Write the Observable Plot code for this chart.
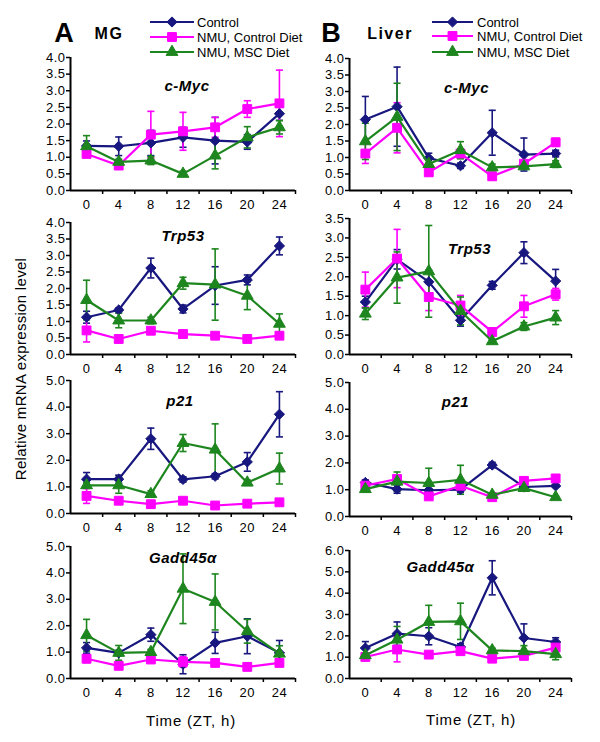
<!DOCTYPE html>
<html><head><meta charset="utf-8">
<script src="https://cdn.jsdelivr.net/npm/d3@7"></script>
<script src="https://cdn.jsdelivr.net/npm/@observablehq/plot@0.6"></script>
<style>
body{margin:0;background:#fff;}
#chart{position:relative;width:600px;height:742px;font-family:"Liberation Sans",Arial,sans-serif;overflow:hidden;background:#fff;}
.abs{position:absolute;}
.lbl{position:absolute;white-space:nowrap;color:#000;}
</style></head><body><div id="chart"></div>
<script>
const times = [0,4,8,12,16,20,24];
const seriesNames = ["Control","NMU, Control Diet","NMU, MSC Diet"];
const genes = ["c-Myc","Trp53","p21","Gadd45α"];
const tissues = ["MG","Liver"];
const panelLetters = ["A","B"];

// Mammary gland (MG)
const mgMycCtrl = [1.34,1.33,1.43,1.60,1.50,1.46,2.31];
const mgMycCtrlErr = [0.15,0.28,0.38,0.30,0.70,0.22,0.20];
const mgMycCD = [1.10,0.75,1.68,1.78,1.90,2.45,2.62];
const mgMycCDErr = [0.10,0.08,0.70,0.57,0.30,0.25,1.00];
const mgMycMSC = [1.33,0.86,0.90,0.50,1.05,1.60,1.90];
const mgMycMSCErr = [0.32,0.08,0.12,0.08,0.40,0.32,0.20];

const mgTrpCtrl = [1.13,1.35,2.62,1.38,2.09,2.26,3.29];
const mgTrpCtrlErr = [0.18,0.06,0.30,0.12,0.57,0.15,0.27];
const mgTrpCD = [0.73,0.47,0.72,0.62,0.57,0.47,0.57];
const mgTrpCDErr = [0.35,0.08,0.06,0.05,0.06,0.05,0.06];
const mgTrpMSC = [1.65,1.03,1.03,2.16,2.12,1.78,0.93];
const mgTrpMSCErr = [0.60,0.22,0.10,0.18,1.08,0.42,0.30];

const mgP21Ctrl = [1.29,1.29,2.81,1.28,1.40,1.94,3.73];
const mgP21CtrlErr = [0.25,0.15,0.40,0.10,0.10,0.35,0.85];
const mgP21CD = [0.66,0.48,0.35,0.48,0.30,0.37,0.42];
const mgP21CDErr = [0.28,0.10,0.06,0.05,0.05,0.05,0.05];
const mgP21MSC = [1.06,1.06,0.73,2.65,2.40,1.16,1.69];
const mgP21MSCErr = [0.10,0.30,0.12,0.32,0.97,0.10,0.58];

const mgGadCtrl = [1.16,0.97,1.66,0.54,1.35,1.60,0.97];
const mgGadCtrlErr = [0.20,0.10,0.25,0.36,0.40,0.66,0.47];
const mgGadCD = [0.75,0.48,0.72,0.63,0.59,0.44,0.59];
const mgGadCDErr = [0.15,0.05,0.05,0.20,0.05,0.05,0.05];
const mgGadMSC = [1.64,0.97,1.00,3.40,2.90,1.79,0.94];
const mgGadMSCErr = [0.60,0.28,0.10,1.32,1.06,0.45,0.30];

// Liver
const lvMycCtrl = [2.15,2.54,0.98,0.75,1.75,1.09,1.12];
const lvMycCtrlErr = [0.70,1.20,0.15,0.08,0.68,0.50,0.10];
const lvMycCD = [1.12,1.90,0.55,1.12,0.43,0.81,1.46];
const lvMycCDErr = [0.30,0.76,0.10,0.12,0.10,0.08,0.12];
const lvMycMSC = [1.49,2.23,0.80,1.22,0.70,0.73,0.80];
const lvMycMSCErr = [0.55,1.02,0.22,0.26,0.10,0.08,0.10];

const lvTrpCtrl = [1.35,2.45,1.87,0.88,1.78,2.62,1.89];
const lvTrpCtrlErr = [0.15,0.25,0.30,0.15,0.10,0.28,0.30];
const lvTrpCD = [1.67,2.47,1.48,1.26,0.58,1.24,1.55];
const lvTrpCDErr = [0.45,0.75,0.35,0.26,0.05,0.28,0.15];
const lvTrpMSC = [1.05,1.98,2.14,1.12,0.34,0.72,0.95];
const lvTrpMSCErr = [0.15,0.66,1.18,0.36,0.05,0.10,0.18];

const lvP21Ctrl = [1.27,1.02,0.98,1.00,1.92,1.10,1.14];
const lvP21CtrlErr = [0.10,0.15,0.06,0.10,0.10,0.05,0.05];
const lvP21CD = [1.15,1.40,0.75,1.15,0.72,1.33,1.42];
const lvP21CDErr = [0.20,0.10,0.10,0.08,0.10,0.05,0.05];
const lvP21MSC = [1.02,1.30,1.25,1.37,0.81,1.06,0.72];
const lvP21MSCErr = [0.10,0.36,0.55,0.54,0.05,0.05,0.05];

const lvGadCtrl = [1.43,2.10,1.98,1.48,4.72,1.90,1.71];
const lvGadCtrlErr = [0.30,0.55,0.40,0.15,0.80,0.66,0.20];
const lvGadCD = [1.01,1.36,1.12,1.28,0.93,1.06,1.45];
const lvGadCDErr = [0.08,0.58,0.08,0.10,0.08,0.08,0.10];
const lvGadMSC = [1.09,1.82,2.65,2.68,1.32,1.28,1.14];
const lvGadMSCErr = [0.10,0.62,0.78,0.85,0.10,0.26,0.26];

// y axis maxima / steps per panel
const mgYMax = [4, 4, 5, 5];
const mgYStep = [0.5, 0.5, 1, 1];
const lvYMax = [4, 3.5, 5, 6];
const lvYStep = [0.5, 0.5, 1, 1];

// ---------- styling ----------
const colors = ["#17177f", "#ff00ff", "#1e861e"];
const symbols = ["diamond2", "square", "triangle"];
const symR = [4.6, 5, 4.4];
const FONT = "'Liberation Sans', Arial, sans-serif";

const mgSeries = [
  [[mgMycCtrl,mgMycCtrlErr],[mgMycCD,mgMycCDErr],[mgMycMSC,mgMycMSCErr]],
  [[mgTrpCtrl,mgTrpCtrlErr],[mgTrpCD,mgTrpCDErr],[mgTrpMSC,mgTrpMSCErr]],
  [[mgP21Ctrl,mgP21CtrlErr],[mgP21CD,mgP21CDErr],[mgP21MSC,mgP21MSCErr]],
  [[mgGadCtrl,mgGadCtrlErr],[mgGadCD,mgGadCDErr],[mgGadMSC,mgGadMSCErr]]
];
const lvSeries = [
  [[lvMycCtrl,lvMycCtrlErr],[lvMycCD,lvMycCDErr],[lvMycMSC,lvMycMSCErr]],
  [[lvTrpCtrl,lvTrpCtrlErr],[lvTrpCD,lvTrpCDErr],[lvTrpMSC,lvTrpMSCErr]],
  [[lvP21Ctrl,lvP21CtrlErr],[lvP21CD,lvP21CDErr],[lvP21MSC,lvP21MSCErr]],
  [[lvGadCtrl,lvGadCtrlErr],[lvGadCD,lvGadCDErr],[lvGadMSC,lvGadMSCErr]]
];

// layout: [top pixel of y max, bottom pixel of y=0]
const layoutA = [[57,190],[222,354],[380,513],[546,678]];
const layoutB = [[58,190],[218,354],[382,516],[550,678]];
const titleA = [[4,23],[0,8],[-3,15],[0,6]];
const titleB = [[6,24],[9,25],[-5,14],[-20,11]];

const capSymbol = {
  draw(context, size) {
    const w = Math.sqrt(size) / 2;
    context.moveTo(-w, 0);
    context.lineTo(w, 0);
  }
};

const chart = document.getElementById("chart");

function makePanel(series, gene, yMax, yStep, left, mL, mR, top, bottom, tOff) {
  const mt = 14, mb = 32;
  const rowsBySeries = series.map(([vals, errs], s) =>
    vals.map((v, i) => ({s, t: times[i], v, lo: Math.max(0, v - errs[i]), hi: v + errs[i]})));
  const marks = [
    Plot.axisY({ticks: d3.range(0, yMax + 1e-9, yStep), tickFormat: d3.format(".1f"), tickSize: 4, tickPadding: 1, label: null, strokeWidth: 1.5}),
    Plot.axisX({ticks: [2,6,10,14,18,22,26], tickFormat: () => "", tickSize: 4, label: null, strokeWidth: 1.5}),
    Plot.axisX({ticks: times, tickSize: 0, tickPadding: 9, label: null}),
    Plot.ruleX([-2], {stroke: "#000", strokeWidth: 2}),
    Plot.ruleY([0], {stroke: "#000", strokeWidth: 2})
  ];
  rowsBySeries.forEach((rows, s) => {
    marks.push(
      Plot.ruleX(rows, {x: "t", y1: "lo", y2: "hi", stroke: colors[s], strokeWidth: 1.6}),
      Plot.dot(rows, {x: "t", y: "hi", symbol: capSymbol, r: 4, fill: "none", stroke: colors[s], strokeWidth: 1.6}),
      Plot.dot(rows, {x: "t", y: "lo", symbol: capSymbol, r: 4, fill: "none", stroke: colors[s], strokeWidth: 1.6})
    );
  });
  rowsBySeries.forEach((rows, s) => {
    marks.push(
      Plot.line(rows, {x: "t", y: "v", stroke: colors[s], strokeWidth: 2.2}),
      Plot.dot(rows, {x: "t", y: "v", symbol: symbols[s], r: symR[s], fill: colors[s], stroke: colors[s], strokeWidth: 1})
    );
  });
  marks.push(Plot.text([gene], {frameAnchor: "top", dx: tOff[0], dy: tOff[1], fontWeight: "bold", fontStyle: "italic", fontSize: 15, fill: "#000"}));
  const svg = Plot.plot({
    width: 300,
    height: bottom - top + mt + mb,
    marginLeft: mL, marginRight: mR, marginTop: mt, marginBottom: mb,
    style: {background: "transparent", overflow: "visible", fontFamily: FONT, fontSize: "13px", color: "#000", letterSpacing: "0.5px"},
    x: {domain: [-2, 26]},
    y: {domain: [0, yMax]},
    marks
  });
  svg.style.position = "absolute";
  svg.style.left = left + "px";
  svg.style.top = (top - mt) + "px";
  chart.appendChild(svg);
}

for (let r = 0; r < 4; r++) {
  makePanel(mgSeries[r], genes[r], mgYMax[r], mgYStep[r], 0, 70, 5, layoutA[r][0], layoutA[r][1], titleA[r]);
  makePanel(lvSeries[r], genes[r], lvYMax[r], lvYStep[r], 300, 49, 29, layoutB[r][0], layoutB[r][1], titleB[r]);
}

// legends
function makeLegend(x0, x1, tx, ys) {
  const svg = d3.create("svg").attr("width", 600).attr("height", 70)
    .style("position", "absolute").style("left", "0px").style("top", "0px").style("overflow", "visible");
  seriesNames.forEach((name, s) => {
    const y = ys[s];
    svg.append("line").attr("x1", x0).attr("x2", x1).attr("y1", y).attr("y2", y)
      .attr("stroke", colors[s]).attr("stroke-width", 2.2);
    const type = s === 0 ? d3.symbolDiamond2 : s === 1 ? d3.symbolSquare : d3.symbolTriangle;
    svg.append("path").attr("d", d3.symbol(type, Math.PI * symR[s] * symR[s])())
      .attr("transform", `translate(${(x0 + x1) / 2},${y})`).attr("fill", colors[s]).attr("stroke", colors[s]);
    svg.append("text").attr("x", tx).attr("y", y).attr("dy", "0.36em")
      .attr("font-family", FONT).attr("font-size", 13).attr("fill", "#000").text(name);
  });
  chart.appendChild(svg.node());
}
makeLegend(150, 194, 197, [22, 37, 52]);
makeLegend(432, 473, 477, [22, 36, 52]);

function label(text, x, y, css) {
  const d = document.createElement("div");
  d.className = "lbl";
  d.textContent = text;
  d.style.left = x + "px";
  d.style.top = y + "px";
  Object.assign(d.style, css);
  chart.appendChild(d);
  return d;
}
label(panelLetters[0], 64, 33, {fontSize: "27px", fontWeight: "bold", transform: "translate(-50%,-50%)"});
label(tissues[0], 109, 34, {fontSize: "16px", fontWeight: "bold", letterSpacing: "1.5px", transform: "translate(-50%,-50%)"});
label(panelLetters[1], 331, 33, {fontSize: "27px", fontWeight: "bold", transform: "translate(-50%,-50%)"});
label(tissues[1], 390, 34, {fontSize: "16px", fontWeight: "bold", letterSpacing: "1.5px", transform: "translate(-50%,-50%)"});
label("Time (ZT, h)", 191, 720, {fontSize: "15px", letterSpacing: "0.8px", transform: "translate(-50%,-50%)"});
label("Time (ZT, h)", 471, 719, {fontSize: "15px", letterSpacing: "0.8px", transform: "translate(-50%,-50%)"});
label("Relative mRNA expression level", 20, 369, {fontSize: "15px", letterSpacing: "0.3px", transform: "translate(-50%,-50%) rotate(-90deg)"});
</script></body></html>
